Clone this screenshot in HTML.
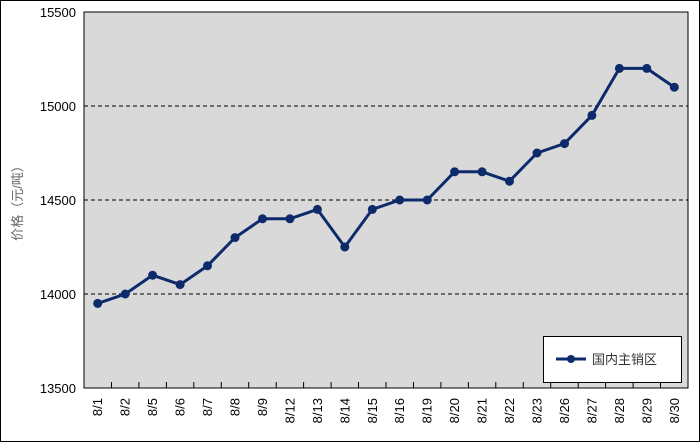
<!DOCTYPE html><html><head><meta charset="utf-8"><style>body{margin:0}svg{display:block}</style></head><body>
<svg width="700" height="442" xmlns="http://www.w3.org/2000/svg" font-family="Liberation Sans, Noto Sans CJK SC, sans-serif">
<rect x="0.5" y="0.5" width="699" height="441" fill="#fff" stroke="#000"/>
<rect x="84" y="12" width="604" height="376" fill="#d9d9d9" stroke="#000" stroke-width="1"/>
<g stroke="#000" stroke-dasharray="4,3"><line x1="84" x2="688" y1="106" y2="106"/><line x1="84" x2="688" y1="200" y2="200"/><line x1="84" x2="688" y1="294" y2="294"/></g>
<g font-size="13" text-anchor="end" fill="#000"><text x="76" y="17">15500</text><text x="76" y="111">15000</text><text x="76" y="205">14500</text><text x="76" y="299">14000</text><text x="76" y="393">13500</text></g>
<text transform="translate(22,200) rotate(-90)" font-size="13" fill="#666" text-anchor="middle">价格（元/吨）</text>
<g stroke="#000">
<line x1="111.5" x2="111.5" y1="388" y2="382"/><line x1="138.9" x2="138.9" y1="388" y2="382"/><line x1="166.4" x2="166.4" y1="388" y2="382"/><line x1="193.8" x2="193.8" y1="388" y2="382"/><line x1="221.3" x2="221.3" y1="388" y2="382"/><line x1="248.7" x2="248.7" y1="388" y2="382"/><line x1="276.2" x2="276.2" y1="388" y2="382"/><line x1="303.6" x2="303.6" y1="388" y2="382"/><line x1="331.1" x2="331.1" y1="388" y2="382"/><line x1="358.5" x2="358.5" y1="388" y2="382"/><line x1="386" x2="386" y1="388" y2="382"/><line x1="413.5" x2="413.5" y1="388" y2="382"/><line x1="440.9" x2="440.9" y1="388" y2="382"/><line x1="468.4" x2="468.4" y1="388" y2="382"/><line x1="495.8" x2="495.8" y1="388" y2="382"/><line x1="523.3" x2="523.3" y1="388" y2="382"/><line x1="550.7" x2="550.7" y1="388" y2="382"/><line x1="578.2" x2="578.2" y1="388" y2="382"/><line x1="605.6" x2="605.6" y1="388" y2="382"/><line x1="633.1" x2="633.1" y1="388" y2="382"/><line x1="660.5" x2="660.5" y1="388" y2="382"/>
</g>
<polyline fill="none" stroke="#0d2a6b" stroke-width="3" points="97.7,303.4 125.2,294 152.6,275.2 180.1,284.6 207.5,265.8 235,237.6 262.5,218.8 289.9,218.8 317.4,209.4 344.8,247 372.3,209.4 399.7,200 427.2,200 454.6,171.8 482.1,171.8 509.5,181.2 537,153 564.5,143.6 591.9,115.4 619.4,68.4 646.8,68.4 674.3,87.2"/>
<g fill="#0d2a6b">
<circle cx="97.7" cy="303.4" r="4.5"/><circle cx="125.2" cy="294" r="4.5"/><circle cx="152.6" cy="275.2" r="4.5"/><circle cx="180.1" cy="284.6" r="4.5"/><circle cx="207.5" cy="265.8" r="4.5"/><circle cx="235" cy="237.6" r="4.5"/><circle cx="262.5" cy="218.8" r="4.5"/><circle cx="289.9" cy="218.8" r="4.5"/><circle cx="317.4" cy="209.4" r="4.5"/><circle cx="344.8" cy="247" r="4.5"/><circle cx="372.3" cy="209.4" r="4.5"/><circle cx="399.7" cy="200" r="4.5"/><circle cx="427.2" cy="200" r="4.5"/><circle cx="454.6" cy="171.8" r="4.5"/><circle cx="482.1" cy="171.8" r="4.5"/><circle cx="509.5" cy="181.2" r="4.5"/><circle cx="537" cy="153" r="4.5"/><circle cx="564.5" cy="143.6" r="4.5"/><circle cx="591.9" cy="115.4" r="4.5"/><circle cx="619.4" cy="68.4" r="4.5"/><circle cx="646.8" cy="68.4" r="4.5"/><circle cx="674.3" cy="87.2" r="4.5"/>
</g>
<g font-size="13" fill="#000" text-anchor="end">
<text transform="translate(102.2,398) rotate(-90)">8/1</text>
<text transform="translate(129.7,398) rotate(-90)">8/2</text>
<text transform="translate(157.1,398) rotate(-90)">8/5</text>
<text transform="translate(184.6,398) rotate(-90)">8/6</text>
<text transform="translate(212,398) rotate(-90)">8/7</text>
<text transform="translate(239.5,398) rotate(-90)">8/8</text>
<text transform="translate(267,398) rotate(-90)">8/9</text>
<text transform="translate(294.4,398) rotate(-90)">8/12</text>
<text transform="translate(321.9,398) rotate(-90)">8/13</text>
<text transform="translate(349.3,398) rotate(-90)">8/14</text>
<text transform="translate(376.8,398) rotate(-90)">8/15</text>
<text transform="translate(404.2,398) rotate(-90)">8/16</text>
<text transform="translate(431.7,398) rotate(-90)">8/19</text>
<text transform="translate(459.1,398) rotate(-90)">8/20</text>
<text transform="translate(486.6,398) rotate(-90)">8/21</text>
<text transform="translate(514,398) rotate(-90)">8/22</text>
<text transform="translate(541.5,398) rotate(-90)">8/23</text>
<text transform="translate(569,398) rotate(-90)">8/26</text>
<text transform="translate(596.4,398) rotate(-90)">8/27</text>
<text transform="translate(623.9,398) rotate(-90)">8/28</text>
<text transform="translate(651.3,398) rotate(-90)">8/29</text>
<text transform="translate(678.8,398) rotate(-90)">8/30</text>
</g>
<rect x="543.5" y="336.5" width="138" height="46" fill="#fff" stroke="#000"/>
<line x1="556" x2="586" y1="359" y2="359" stroke="#0d2a6b" stroke-width="3"/><circle cx="571" cy="359" r="4" fill="#0d2a6b"/>
<text x="592" y="364" font-size="13" fill="#333">国内主销区</text>
</svg></body></html>
